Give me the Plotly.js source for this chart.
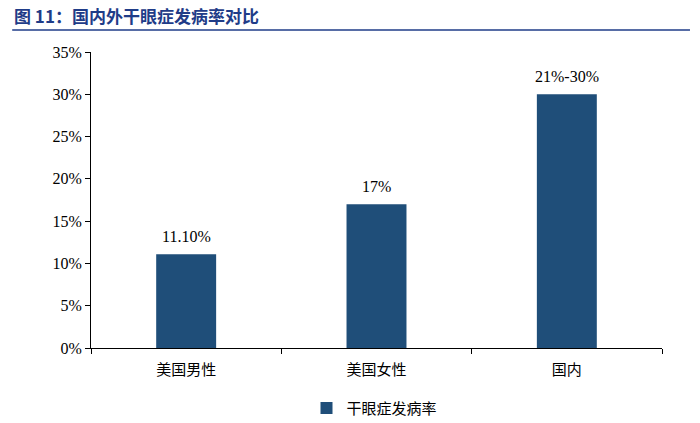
<!DOCTYPE html>
<html>
<head>
<meta charset="utf-8">
<script src="https://cdn.plot.ly/plotly-3.0.1.min.js"></script>
<style>body{margin:0;background:#fff}#chart{width:700px;height:423px}</style>
</head>
<body>
<div id="chart"></div>
<script>
var categories = ['美国男性', '美国女性', '国内'];
var rates = [11.1, 17, 30];
var barLabels = ['11.10%', '17%', '21%-30%'];
var seriesName = '干眼症发病率';

var trace = {
  x: categories,
  y: rates,
  type: 'bar',
  name: seriesName,
  marker: {color: '#1F4E79'},
  hoverinfo: 'none'
};

// value labels sit a bit higher above the bars than plotly's own outside text
var labelNotes = categories.map(function (c, i) {
  return {
    x: c, y: rates[i], xref: 'x', yref: 'y',
    text: barLabels[i], showarrow: false,
    yanchor: 'middle', yshift: 18,
    font: {family: 'Liberation Serif', size: 16, color: '#000'}
  };
});

var layout = {
  width: 700,
  height: 423,
  margin: {l: 91, r: 38, t: 52, b: 75, autoexpand: false},
  paper_bgcolor: '#fff',
  plot_bgcolor: '#fff',
  bargap: 0.685,
  showlegend: true,
  legend: {
    orientation: 'h', xref: 'container', yref: 'container',
    x: 0.535, xanchor: 'center', y: 0.035, yanchor: 'middle',
    itemwidth: 30,
    font: {family: 'Noto Sans CJK SC', size: 15, color: '#000'}
  },
  xaxis: {
    showline: true, linecolor: '#000', linewidth: 1,
    ticks: 'outside', tickson: 'boundaries', ticklen: 5, tickcolor: '#000',
    ticklabelstandoff: 8,
    tickfont: {family: 'Noto Sans CJK SC', size: 15, color: '#000'},
    fixedrange: true
  },
  yaxis: {
    range: [0, 35], dtick: 5, ticksuffix: '%',
    showgrid: false, zeroline: false,
    showline: true, linecolor: '#000', linewidth: 1,
    ticks: 'outside', ticklen: 5, tickcolor: '#000',
    tickfont: {family: 'Liberation Serif', size: 16, color: '#000'},
    fixedrange: true
  },
  annotations: labelNotes.concat([{
    text: '<b>图 11：国内外干眼症发病率对比</b>',
    xref: 'paper', yref: 'paper', x: -0.138, y: 1.125,
    xanchor: 'left', yanchor: 'middle', showarrow: false,
    font: {family: 'Noto Sans CJK SC', size: 17, color: '#1F3C88'}
  }]),
  shapes: [{
    type: 'line', xref: 'paper', yref: 'paper',
    x0: -0.138, x1: 1.049, y0: 1.074, y1: 1.074,
    line: {color: '#1F3C88', width: 1.5}
  }]
};

Plotly.newPlot('chart', [trace], layout, {displayModeBar: false, staticPlot: true});
</script>
</body>
</html>
